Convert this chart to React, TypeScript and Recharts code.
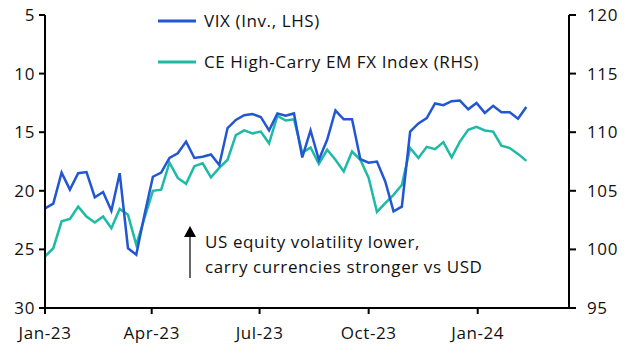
import { LineChart, Line, XAxis, YAxis } from "recharts";

// weekly readings, first week of Jan-23 to mid Feb-24
const vix = [
  21.5, 21.1, 18.45, 19.9, 18.5, 18.4, 20.55, 20.1, 21.7, 18.5,
  24.9, 25.45, 22.0, 18.8, 18.45, 17.2, 16.8, 15.8, 17.2, 17.1,
  16.9, 17.8, 14.65, 13.95, 13.55, 13.45, 13.7, 14.85, 13.4, 13.6,
  13.4, 17.15, 14.85, 17.35, 15.65, 13.15, 13.9, 13.9, 17.3, 17.6,
  17.5, 19.2, 21.75, 21.35, 14.95, 14.25, 13.8, 12.55, 12.7, 12.35,
  12.3, 13.05, 12.5, 13.35, 12.75, 13.3, 13.3, 13.85, 12.85,
];
const fxIndex = [
  99.4, 100.1, 102.4, 102.6, 103.65, 102.8, 102.3, 102.8, 101.8, 103.45,
  102.95, 100.4, 102.7, 105.0, 105.1, 107.4, 106.1, 105.6, 107.1, 107.35,
  106.15, 106.95, 107.65, 109.75, 110.15, 109.9, 110.05, 109.05, 111.4, 111.0,
  111.1, 108.25, 108.7, 107.3, 108.5, 107.65, 106.65, 108.35, 107.65, 106.1,
  103.2, 103.95, 104.65, 105.5, 108.65, 107.8, 108.75, 108.55, 109.15, 107.85,
  109.2, 110.2, 110.45, 110.15, 110.05, 108.85, 108.65, 108.15, 107.55,
];
const vixTicks = [5, 10, 15, 20, 25, 30];
const fxTicks = [95, 100, 105, 110, 115, 120];
const dateTicks = [
  Date.UTC(2023, 0, 1),
  Date.UTC(2023, 3, 1),
  Date.UTC(2023, 6, 1),
  Date.UTC(2023, 9, 1),
  Date.UTC(2024, 0, 1),
];
const months = ["Jan", "Feb", "Mar", "Apr", "May", "Jun", "Jul", "Aug", "Sep", "Oct", "Nov", "Dec"];

const DAY = 86400000;
const START = Date.UTC(2023, 0, 1);
const data = vix.map((v, i) => ({ date: START + i * 7 * DAY, vix: v, fx: fxIndex[i] }));

const BLUE = "#2356d2";
const TEAL = "#1dbaa6";
const FONT = "'Open Sans', sans-serif";
const FS = 17;
const LS = 0.6;

const fmtDate = (t: number) => {
  const d = new Date(t);
  return `${months[d.getUTCMonth()]}-${String(d.getUTCFullYear()).slice(2)}`;
};

const legendItems = [
  { label: "VIX (Inv., LHS)", color: BLUE },
  { label: "CE High-Carry EM FX Index (RHS)", color: TEAL },
];

function LegendBox() {
  return (
    <div
      style={{
        position: "absolute",
        left: 158,
        top: 0,
        fontFamily: FONT,
        fontSize: FS,
        letterSpacing: LS,
        color: "#111",
      }}
    >
      {legendItems.map((it) => (
        <div key={it.label} style={{ display: "flex", alignItems: "center", height: 41 }}>
          <svg width={38} height={4} style={{ marginRight: 8 }}>
            <line x1={0} y1={2} x2={38} y2={2} stroke={it.color} strokeWidth={3} />
          </svg>
          <span>{it.label}</span>
        </div>
      ))}
    </div>
  );
}

const axisStroke = { stroke: "#000", strokeWidth: 2 };
const tickStyle = { fill: "#111", fontSize: FS, fontFamily: FONT, letterSpacing: LS };

export default function App() {
  return (
    <div style={{ position: "absolute", left: 0, top: 0, width: 629, height: 355, background: "#fff" }}>
      <LineChart width={629} height={355} data={data} margin={{ top: 15, right: 0, bottom: 0, left: 0 }}>
        <XAxis
          dataKey="date"
          type="number"
          scale="time"
          domain={[START, START + 442 * DAY]}
          ticks={dateTicks}
          tickFormatter={fmtDate}
          height={47}
          tickSize={6}
          tickMargin={13}
          axisLine={axisStroke}
          tickLine={axisStroke}
          tick={tickStyle}
        />
        <YAxis
          yAxisId="l"
          domain={[5, 30]}
          ticks={vixTicks}
          reversed
          width={45}
          tickSize={6}
          tickMargin={4}
          axisLine={axisStroke}
          tickLine={axisStroke}
          tick={tickStyle}
          interval={0}
        />
        <YAxis
          yAxisId="r"
          orientation="right"
          domain={[95, 120]}
          ticks={fxTicks}
          width={60}
          tickSize={7}
          tickMargin={11}
          axisLine={axisStroke}
          tickLine={axisStroke}
          tick={{ ...tickStyle, textAnchor: "start" }}
          interval={0}
        />
        <Line yAxisId="r" dataKey="fx" stroke={TEAL} strokeWidth={2.5} dot={false} isAnimationActive={false} />
        <Line yAxisId="l" dataKey="vix" stroke={BLUE} strokeWidth={2.5} dot={false} isAnimationActive={false} />
      </LineChart>
      <LegendBox />
      <svg width={629} height={355} style={{ position: "absolute", left: 0, top: 0, pointerEvents: "none" }}>
        <line x1={190} y1={278} x2={190} y2={236} stroke="#000" strokeWidth={1.2} />
        <polygon points="184,237 196,237 190,226" fill="#000" />
        <g fontFamily={FONT} fontSize={FS} fill="#111" letterSpacing={LS}>
          <text x={205} y={248}>US equity volatility lower,</text>
          <text x={205} y={273}>carry currencies stronger vs USD</text>
        </g>
      </svg>
    </div>
  );
}
